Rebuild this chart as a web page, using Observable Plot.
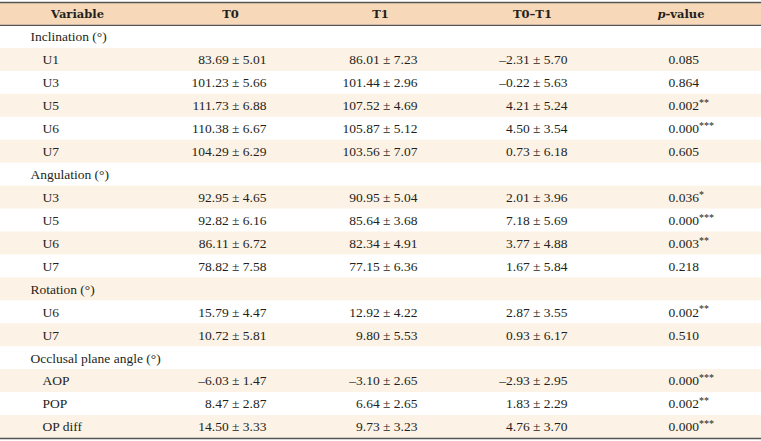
<!DOCTYPE html>
<html>
<head>
<meta charset="utf-8">
<script src="https://cdn.jsdelivr.net/npm/d3@7"></script>
<script src="https://cdn.jsdelivr.net/npm/@observablehq/plot@0.6"></script>
<style>
  html, body { margin: 0; padding: 0; background: #fff; }
  #chart svg { display: block; }
</style>
</head>
<body>
<div id="chart"></div>
<script>
// ---- data ----
const columnHeaders = ["Variable", "T0", "T1", "T0–T1", "p-value"];
const groupNames = ["Inclination (°)", "Angulation (°)", "Rotation (°)", "Occlusal plane angle (°)"];
const groupVariables = [
  ["U1", "U3", "U5", "U6", "U7"],
  ["U3", "U5", "U6", "U7"],
  ["U6", "U7"],
  ["AOP", "POP", "OP diff"]
];
const t0Mean   = [83.69, 101.23, 111.73, 110.38, 104.29, 92.95, 92.82, 86.11, 78.82, 15.79, 10.72, -6.03, 8.47, 14.50];
const t0SD     = [5.01, 5.66, 6.88, 6.67, 6.29, 4.65, 6.16, 6.72, 7.58, 4.47, 5.81, 1.47, 2.87, 3.33];
const t1Mean   = [86.01, 101.44, 107.52, 105.87, 103.56, 90.95, 85.64, 82.34, 77.15, 12.92, 9.80, -3.10, 6.64, 9.73];
const t1SD     = [7.23, 2.96, 4.69, 5.12, 7.07, 5.04, 3.68, 4.91, 6.36, 4.22, 5.53, 2.65, 2.65, 3.23];
const diffMean = [-2.31, -0.22, 4.21, 4.50, 0.73, 2.01, 7.18, 3.77, 1.67, 2.87, 0.93, -2.93, 1.83, 4.76];
const diffSD   = [5.70, 5.63, 5.24, 3.54, 6.18, 3.96, 5.69, 4.88, 5.84, 3.55, 6.17, 2.95, 2.29, 3.70];
const pValue   = [0.085, 0.864, 0.002, 0.000, 0.605, 0.036, 0.000, 0.003, 0.218, 0.002, 0.510, 0.000, 0.002, 0.000];
const pStars   = ["", "", "**", "***", "", "*", "***", "**", "", "**", "", "***", "**", "***"];

// ---- build table rows ----
const f2 = v => d3.format(".2f")(v).replace("−", "–");
const f3 = d3.format(".3f");
const rows = [];
let k = 0;
groupNames.forEach((g, gi) => {
  rows.push({kind: "group", label: g});
  groupVariables[gi].forEach(v => {
    rows.push({
      kind: "var", label: v,
      t0: `${f2(t0Mean[k])} ± ${f2(t0SD[k])}`,
      t1: `${f2(t1Mean[k])} ± ${f2(t1SD[k])}`,
      diff: `${f2(diffMean[k])} ± ${f2(diffSD[k])}`,
      p: f3(pValue[k]),
      stars: pStars[k]
    });
    k++;
  });
});
rows.forEach((r, i) => { r.i = i; r.yc = i + 1.5; });
const varRows = rows.filter(r => r.kind === "var");
const groupRows = rows.filter(r => r.kind === "group");
const shaded = rows.filter(r => r.i % 2 === 1);
const nRows = rows.length + 1;

// ---- layout ----
const W = 761, H = 441;
const FONT = "'Liberation Serif', serif";
const HFONT = "'DejaVu Serif', serif";
const BODY = 13.5;
const HSIZE = 11.5;
const colX = {varHead: 77, group: 30, var: 42, t0Head: 230, t0: 266, t1Head: 380, t1: 417, diffHead: 532, diff: 567, pSplit: 665, p: 668};
const headerCenters = [colX.varHead, colX.t0Head, colX.t1Head, colX.diffHead];
const headerData = columnHeaders.slice(0, 4).map((h, j) => ({h, x: headerCenters[j]}));
const ink = "#231f20";

const chart = Plot.plot({
  width: W, height: H, margin: 0,
  style: {fontFamily: FONT, background: "#fff"},
  x: {type: "linear", domain: [0, W], range: [0, W], axis: null},
  y: {type: "linear", domain: [0, nRows], range: [2, 438], axis: null},
  marks: [
    Plot.rect([0], {x1: 0, x2: W, y1: 0, y2: 1, fill: "#f7d9b9"}),
    Plot.rect(shaded, {x1: 0, x2: W, y1: d => d.i + 1, y2: d => d.i + 2, fill: "#fdf2e6"}),
    Plot.ruleY([0, nRows], {stroke: "#555", strokeWidth: 1.6}),
    Plot.ruleY([1], {stroke: "#555", strokeWidth: 1.2}),
    // header
    Plot.text(headerData, {x: "x", y: 0.5, text: "h", fontFamily: HFONT, fontWeight: "bold", fontSize: HSIZE, fill: ink}),
    Plot.text([columnHeaders[4]], {x: colX.pSplit, y: 0.5, text: d => d.slice(0, 1), fontFamily: HFONT, fontWeight: "bold", fontStyle: "italic", fontSize: HSIZE, textAnchor: "end", fill: ink}),
    Plot.text([columnHeaders[4]], {x: colX.pSplit, y: 0.5, text: d => d.slice(1), fontFamily: HFONT, fontWeight: "bold", fontSize: HSIZE, textAnchor: "start", fill: ink}),
    // group labels
    Plot.text(groupRows, {x: colX.group, y: "yc", text: "label", textAnchor: "start", fontSize: BODY, fill: ink}),
    // variable rows
    Plot.text(varRows, {x: colX.var, y: "yc", text: "label", textAnchor: "start", fontSize: BODY, fill: ink}),
    Plot.text(varRows, {x: colX.t0, y: "yc", text: "t0", textAnchor: "end", fontSize: BODY, fill: ink}),
    Plot.text(varRows, {x: colX.t1, y: "yc", text: "t1", textAnchor: "end", fontSize: BODY, fill: ink}),
    Plot.text(varRows, {x: colX.diff, y: "yc", text: "diff", textAnchor: "end", fontSize: BODY, fill: ink}),
    Plot.text(varRows, {x: colX.p, y: "yc", text: "p", textAnchor: "start", fontSize: BODY, fill: ink}),
    Plot.text(varRows.filter(d => d.stars), {x: colX.p + 30.5, y: "yc", dy: -3, text: "stars", textAnchor: "start", fontSize: 10, fill: ink})
  ]
});
document.getElementById("chart").appendChild(chart);
</script>
</body>
</html>
